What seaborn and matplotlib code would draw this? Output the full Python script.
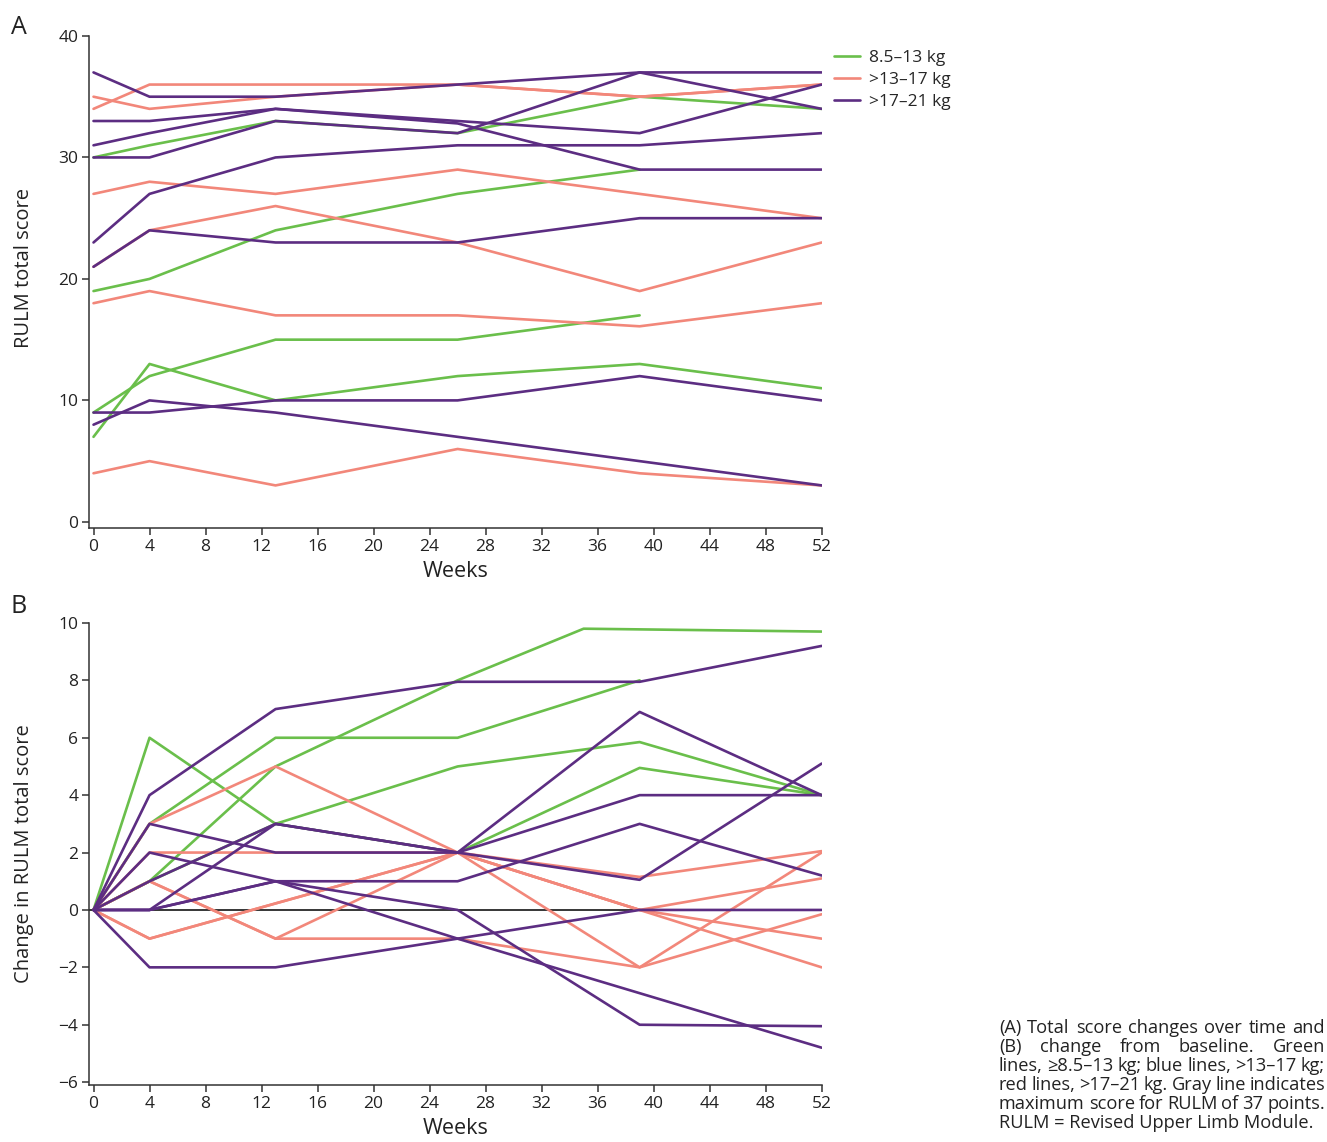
import matplotlib
matplotlib.use('Agg')
import matplotlib.pyplot as plt
import seaborn as sns
import numpy as np
import pandas as pd

sns.set_theme(style='ticks')
plt.rcParams['font.family'] = ['Open Sans', 'DejaVu Sans']

green = '#6abf4b'
pink = '#f2877a'
purple = '#5c2d82'
groups = ['8.5–13 kg', '>13–17 kg', '>17–21 kg']
palette = dict(zip(groups, [green, pink, purple]))

# panel A: total score, weeks 0/4/13/26/39/52 (nan = no visit)
weeks_a = [0, 4, 13, 26, 39, 52]
a_green = [[30, 31, 33, 32, 35, 34],
           [19, 20, 24, 27, 29, np.nan],
           [7, 13, 10, 12, 13, 11],
           [9, 12, 15, 15, 17, np.nan]]
a_pink = [[34, 36, 36, 36, 35, 36],
          [35, 34, 35, 36, 35, 36],
          [27, 28, 27, 29, 27, 25],
          [21, 24, 26, 23, 19, 23],
          [18, 19, 17, 17, 16.1, 18],
          [4, 5, 3, 6, 4, 3]]
a_purple = [[37, 35, 35, 36, 37, 37],
            [33, 33, 34, 32.8, 29, 29],
            [31, 32, 34, 33, 32, 36],
            [30, 30, 33, 32, 37, 34],
            [23, 27, 30, 31, 31, 32],
            [21, 24, 23, 23, 25, 25],
            [9, 9, 10, 10, 12, 10],
            [8, 10, 9, 7, 5, 3]]

# panel B: change from baseline
weeks_b = [0, 4, 13, 26, 35, 39, 52]
b_green = [[0, 1, 5, 8, 9.8, np.nan, 9.7],
           [0, 3, 6, 6, np.nan, 8, np.nan],
           [0, 6, 3, 5, np.nan, 5.85, 4],
           [0, 1, 3, 2, np.nan, 4.95, 4]]
b_pink = [[0, 2, 2, 2, np.nan, 1.15, 2.05],
          [0, 3, 5, 2, np.nan, -2, 2],
          [0, 1, -1, 2, np.nan, 0, -2],
          [0, 1, -1, -1, np.nan, -2, -0.15],
          [0, -1, np.nan, 2, np.nan, 0, 1.1],
          [0, -1, np.nan, 2, np.nan, 0, -1]]
b_purple = [[0, -2, -2, -1, np.nan, 0, 0],
            [0, 0, 1, 0, np.nan, -4, -4.05],
            [0, 1, 3, 2, np.nan, 1.05, 5.1],
            [0, 0, 3, 2, np.nan, 6.9, 4],
            [0, 4, 7, 7.95, np.nan, 7.95, 9.2],
            [0, 3, 2, 2, np.nan, 4, 4],
            [0, 0, 1, 1, np.nan, 3, 1.2],
            [0, 2, 1, -1, np.nan, -2.9, -4.8]]


def long_df(weeks, series_by_group):
    rows = []
    n = 0
    for grp, series in zip(groups, series_by_group):
        for vals in series:
            for w, v in zip(weeks, vals):
                rows.append((n, grp, w, v))
            n += 1
    df = pd.DataFrame(rows, columns=['id', 'group', 'week', 'value'])
    return df.dropna()


dfa = long_df(weeks_a, [a_green, a_pink, a_purple])
dfb = long_df(weeks_b, [b_green, b_pink, b_purple])

fig = plt.figure(figsize=(13.27, 11.42), dpi=100)
ax1 = fig.add_axes([0.0673, 0.5377, 0.5519, 0.4308])
ax2 = fig.add_axes([0.0673, 0.0499, 0.5519, 0.4046])

ax2.axhline(0, color='black', lw=1.1, zorder=1)

sns.lineplot(data=dfa, x='week', y='value', hue='group', units='id', estimator=None,
             hue_order=groups, palette=palette, lw=1.9, ax=ax1)
sns.lineplot(data=dfb, x='week', y='value', hue='group', units='id', estimator=None,
             hue_order=groups, palette=palette, lw=1.9, legend=False, ax=ax2)

h, l = ax1.get_legend_handles_labels()
ax1.legend(h, l, loc='upper left', bbox_to_anchor=(1.017, 0.972), frameon=False,
           fontsize=12.5, handlelength=1.5, handletextpad=0.5, labelspacing=0.33,
           borderpad=0, borderaxespad=0)

ax1.set_xlim(-0.3, 52)
ax1.set_ylim(-0.5, 40)
ax1.set_yticks(range(0, 41, 10))
ax2.set_xlim(-0.3, 52)
ax2.set_ylim(-6.1, 10)
ax2.set_yticks(range(-6, 11, 2))

for ax in (ax1, ax2):
    sns.despine(ax=ax)
    ax.set_xticks(range(0, 53, 4))
    for s in ('left', 'bottom'):
        ax.spines[s].set_color('#333333')
        ax.spines[s].set_linewidth(1.1)
    ax.tick_params(direction='out', length=5, width=1.1, color='#333333',
                   labelsize=12.5, labelcolor='#222222', pad=3)
    ax.set_xlabel('Weeks', fontsize=15.5, labelpad=4, color='#222222')

ax1.set_ylabel('RULM total score', fontsize=14.5, color='#222222')
ax2.set_ylabel('Change in RULM total score', fontsize=14.5, color='#222222')
ax1.yaxis.set_label_coords(-0.076, 0.528)
ax2.yaxis.set_label_coords(-0.076, 0.5)

fig.text(0.008, 0.976, 'A', fontsize=18, va='center', color='#222222')
fig.text(0.008, 0.469, 'B', fontsize=18, va='center', color='#222222')

# caption, justified like the journal text
caption = ['(A) Total score changes over time and',
           '(B) change from baseline. Green',
           'lines, ≥8.5–13 kg; blue lines, >13–17 kg;',
           'red lines, >17–21 kg. Gray line indicates',
           'maximum score for RULM of 37 points.',
           'RULM = Revised Upper Limb Module.']
W, H = fig.get_size_inches() * fig.dpi
x0, x1 = 999 / W, 1325 / W
renderer = fig.canvas.get_renderer()

# pick a font size so the widest line fills the column
probe = fig.text(0, 0, caption[2], fontsize=11)
fs = 11 * (x1 - x0) * W / probe.get_window_extent(renderer).width * 1.01
probe.remove()

for i, line in enumerate(caption):
    y = 1 - (1028 + i * 18.9) / H
    if i == len(caption) - 1:
        fig.text(x0, y, line, fontsize=fs, va='center', color='#222222')
        continue
    words = line.split(' ')
    texts = [fig.text(0, y, w_, fontsize=fs, va='center', color='#222222') for w_ in words]
    widths = [t.get_window_extent(renderer).width / W for t in texts]
    gap = (x1 - x0 - sum(widths)) / (len(words) - 1)
    x = x0
    for t, wd in zip(texts, widths):
        t.set_x(x)
        x += wd + gap

fig.savefig('out.png', dpi=100)
